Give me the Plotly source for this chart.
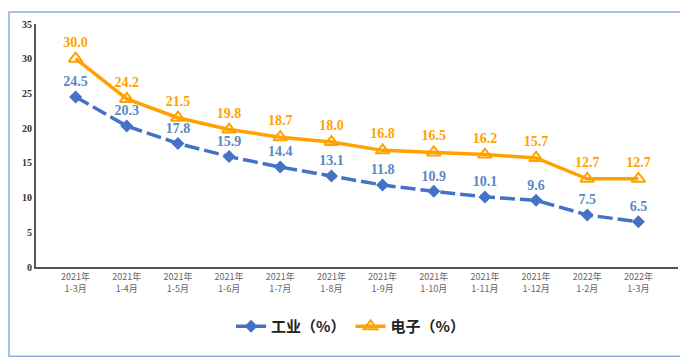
import plotly.graph_objects as go

categories = ["2021年<br>1-3月", "2021年<br>1-4月", "2021年<br>1-5月", "2021年<br>1-6月",
              "2021年<br>1-7月", "2021年<br>1-8月", "2021年<br>1-9月", "2021年<br>1-10月",
              "2021年<br>1-11月", "2021年<br>1-12月", "2022年<br>1-2月", "2022年<br>1-3月"]
industry = [24.5, 20.3, 17.8, 15.9, 14.4, 13.1, 11.8, 10.9, 10.1, 9.6, 7.5, 6.5]
electronics = [30.0, 24.2, 21.5, 19.8, 18.7, 18.0, 16.8, 16.5, 16.2, 15.7, 12.7, 12.7]
y_ticks = [0, 5, 10, 15, 20, 25, 30, 35]

blue = "#4472C4"
orange = "#FFA200"

fig = go.Figure()
fig.add_trace(go.Scatter(
    x=categories, y=industry, name="工业（%）", mode="lines+markers+text",
    line=dict(color=blue, width=3.5, dash="15px,5px"),
    marker=dict(symbol="diamond", size=10, color=blue),
    text=[f"{v:.1f}" for v in industry], textposition="top center",
    textfont=dict(family="Liberation Serif", size=14, color="#5B87C5", weight="bold"),
))
fig.add_trace(go.Scatter(
    x=categories, y=electronics, name="电子（%）", mode="lines+markers+text",
    line=dict(color=orange, width=3.5),
    marker=dict(symbol="triangle-up-open", size=12, color=orange, line=dict(width=2, color=orange)),
    text=[f"{v:.1f}" for v in electronics], textposition="top center",
    textfont=dict(family="Liberation Serif", size=14, color=orange, weight="bold"),
))

fig.update_layout(
    width=680, height=352,
    margin=dict(l=28, r=10, t=14, b=93),
    paper_bgcolor="white", plot_bgcolor="white",
    showlegend=True,
    legend=dict(orientation="h", x=0.49, xanchor="center", y=-0.245, yanchor="middle",
                itemwidth=30,
                font=dict(family="Noto Sans CJK SC", size=15, color="#222222", weight="bold")),
    shapes=[dict(type="rect", xref="paper", yref="paper", x0=-0.042, x1=1.008, y0=-0.367, y1=1.049,
                 line=dict(color="#8EB0DC", width=1.5), fillcolor="rgba(0,0,0,0)", layer="below")],
)
fig.update_xaxes(
    type="category", showline=True, linecolor="#555555", linewidth=2,
    showgrid=False, ticks="", tickfont=dict(family="Noto Sans CJK SC", size=9, color="#666666"),
)
fig.update_yaxes(
    range=[0, 35], tickvals=y_ticks, showline=True, linecolor="#555555", linewidth=2,
    showgrid=False, zeroline=False, ticks="",
    tickfont=dict(family="Liberation Serif", size=10, color="#333333", weight="bold"),
)
fig.write_html("out.html")
